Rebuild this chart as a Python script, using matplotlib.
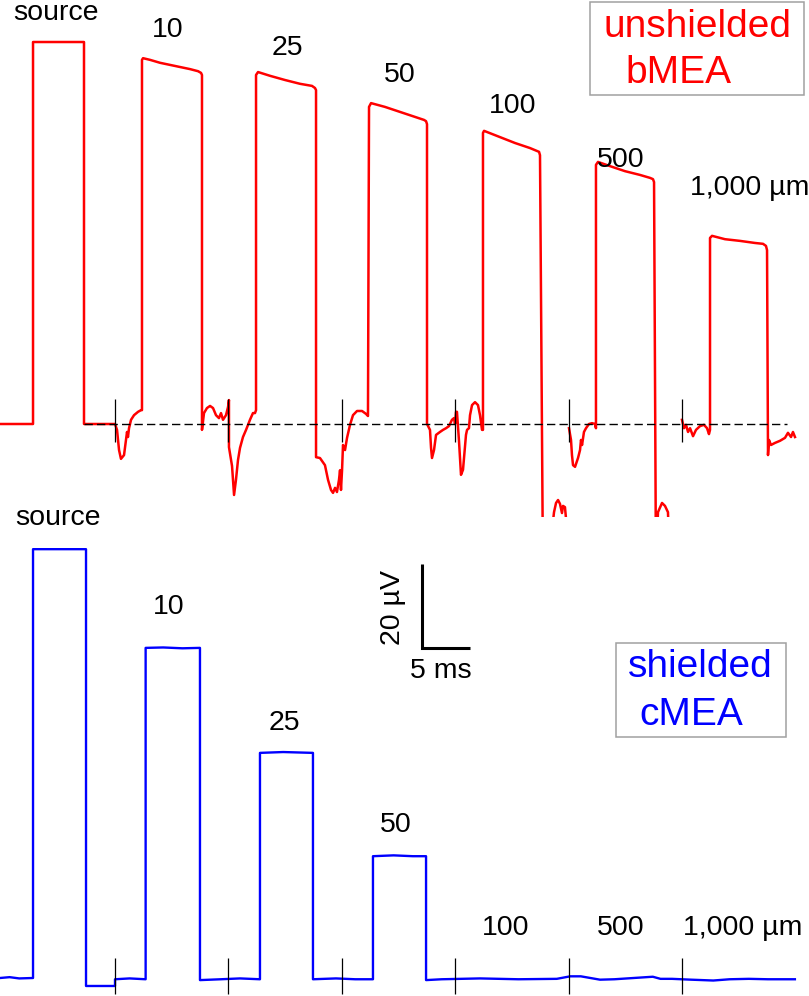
import numpy as np
import matplotlib
matplotlib.use('Agg')
import matplotlib.pyplot as plt
from matplotlib.patches import Rectangle

plt.rcParams['font.family'] = ['Liberation Sans', 'DejaVu Sans']

nan = np.nan

# stimulus onsets (ms) - black tick marks in both panels
tick_times = [11.98, 23.75, 35.63, 47.40, 59.27, 71.04]

# unshielded bMEA recording (ms, uV), segments split by distance
red_t = [0, 3.44, 3.44, 8.75, 8.75, 11.98,
         # 10 um
         12.19, 12.40, 12.60, 12.92, 13.13, 13.23, 13.33, 13.44, 13.65, 13.96, 14.38, 14.69, 14.79,
         14.79, 14.90, 15.63, 16.67, 17.71, 18.75, 19.79, 20.63, 20.94, 21.04,
         21.04, 21.25, 21.56, 21.88, 22.19, 22.50, 22.81, 23.02, 23.23, 23.54, 23.75, 23.85,
         # 25 um
         23.85, 24.17, 24.38, 24.58, 24.79, 25.00, 25.31, 25.63, 26.04, 26.35, 26.56, 26.67,
         26.67, 26.88, 28.13, 29.69, 31.25, 32.50, 32.81, 32.92,
         32.92, 33.33, 33.85, 34.17, 34.48, 34.69, 34.90, 35.10, 35.31, 35.42, 35.52, 35.63,
         # 50 um
         35.73, 35.94, 36.15, 36.46, 36.77, 37.19, 37.71, 38.13, 38.33,
         38.44, 38.65, 40.10, 41.67, 43.23, 44.17, 44.38, 44.48,
         44.48, 44.79, 44.90, 45.00, 45.21, 45.42, 45.83, 46.15, 46.46, 46.77, 47.08, 47.29, 47.40,
         # 100 um
         47.50, 47.60, 47.81, 48.02, 48.23, 48.54, 48.65, 48.85, 48.96, 49.17, 49.48, 49.79, 50.00, 50.21, 50.31,
         50.31, 50.42, 52.08, 53.65, 55.21, 55.94, 56.15, 56.25,
         56.56, 57.50, 57.71, 57.92, 58.13, 58.33, 58.54, 58.65, 58.85, 59.06, 59.17,
         nan,
         # 500 um
         59.27, 59.48, 59.58, 59.69, 59.90, 60.21, 60.42, 60.52, 60.63, 60.83, 61.04, 61.35, 61.67, 61.98, 62.08,
         62.08, 62.29, 63.54, 65.10, 66.67, 67.71, 68.02, 68.13,
         68.33, 68.54, 68.96, 69.27, 69.58, 69.79,
         nan,
         # 1000 um
         71.04, 71.25, 71.46, 71.67, 71.88, 72.19, 72.50, 72.92, 73.33, 73.65, 73.85, 73.96,
         73.96, 74.17, 75.52, 77.08, 78.65, 79.48, 79.79, 79.90,
         80.00, 80.10, 80.31, 80.73, 81.25, 81.77, 82.08, 82.40, 82.60, 82.81]

red_v = [0, 0, 90.95, 90.95, 0, 0,
         -1.4, -6.2, -8.3, -7.4, -3.8, -1.9, -3.1, -1.0, 1.0, 2.1, 2.9, 3.3, 3.3,
         86.7, 87.1, 86.7, 86.0, 85.5, 85.0, 84.5, 84.0, 83.6, 83.1,
         -1.4, 2.6, 3.8, 4.3, 3.8, 2.1, 1.4, 2.6, 1.0, 2.1, 4.0, 5.7,
         -5.5, -10.0, -16.9, -13.3, -8.6, -5.7, -3.1, -1.4, 1.0, 2.6, 2.6, 3.3,
         83.1, 83.8, 82.9, 81.9, 81.0, 80.5, 80.0, 79.5,
         -7.9, -8.1, -9.8, -13.3, -15.7, -16.4, -15.2, -16.2, -13.3, -11.0, -15.7, -11.0,
         -5.0, -6.2, -3.3, -0.2, 2.1, 3.1, 3.1, 2.4, 1.9,
         75.5, 76.4, 75.5, 74.3, 73.1, 72.4, 72.1, 71.4,
         0, -1.4, -5.7, -8.1, -6.2, -2.6, -1.9, -1.4, -1.0, -0.5, 1.0, 1.4, 0,
         2.9, 2.9, -4.0, -12.1, -10.9, -2.6, -1.4, -1.0, 2.1, 4.5, 5.2, 4.5, 2.1, -1.4, -1.4,
         69.3, 69.8, 68.3, 66.9, 65.7, 65.0, 64.8, 64.0,
         -35, -25.2, -21.0, -18.8, -18.1, -19.0, -21.2, -19.5, -19.8, -25.0, -35,
         nan,
         -1.0, -3.8, -7.4, -9.8, -10.2, -8.1, -6.2, -3.8, -5.0, -1.9, -1.0, 0, 0.2, 0, -1.0,
         61.7, 62.4, 61.4, 60.2, 59.3, 58.6, 58.3, 57.6,
         -35, -21.0, -18.8, -19.5, -21.0, -35,
         nan,
         1.0, -1.0, -0.2, -1.9, -1.0, -2.9, -1.4, -0.5, -0.2, -1.0, -2.4, -1.4,
         44.3, 44.8, 44.0, 43.6, 43.1, 42.9, 42.4, 41.4,
         -7.4, -3.8, -5.0, -4.5, -4.0, -3.3, -2.1, -3.1, -1.9, -3.1]

# shielded cMEA recording (ms, uV)
blue_t = [0, 1.0, 2.0, 3.44, 3.44, 5.5, 7.0, 8.96, 8.96, 11.98,
          11.98, 13.5, 15.17, 15.17, 17.0, 19.0, 20.83,
          20.83, 23.0, 25.0, 27.08, 27.08, 29.5, 32.6,
          32.6, 35.0, 37.0, 38.85, 38.85, 41.0, 43.0, 44.38,
          44.38, 46.0, 50.0, 54.0, 58.0, 59.4, 60.5, 62.5, 64.0, 66.0, 68.0, 68.8, 70.0,
          72.0, 74.3, 76.0, 78.0, 80.0, 82.8]
blue_v = [0, 0.2, -0.1, 0, 102.1, 102.1, 102.1, 102.1, -1.9, -1.9,
          -0.3, -0.1, -0.3, 78.6, 78.7, 78.5, 78.6,
          -0.5, -0.3, -0.1, -0.3, 53.6, 53.8, 53.6,
          -0.3, -0.1, -0.3, -0.3, 29.0, 29.2, 29.0, 29.0,
          -0.5, -0.3, -0.1, -0.3, -0.2, 0.4, 0.4, -0.4, -0.3, 0.0, 0.3, -0.2, -0.2,
          -0.4, -0.6, -0.3, -0.2, -0.3, -0.3]

dist_labels = ['source', '10', '25', '50', '100', '500', '1,000 \u00b5m']

W, H = 809, 996
px_ms = 9.6   # pixels per ms
px_uv = 4.2   # pixels per uV

fig = plt.figure(figsize=(W / 100, H / 100), dpi=100)
top = fig.add_axes([0, 1 - 517 / H, 1, 517 / H])
bot = fig.add_axes([0, 0, 1, 1 - 517 / H])
top.set_xlim(0, W / px_ms)
top.set_ylim(-(517 - 424) / px_uv, 424 / px_uv)
bot.set_xlim(0, W / px_ms)
bot.set_ylim(-(996 - 978) / px_uv, (978 - 517) / px_uv)
for ax in (top, bot):
    ax.axis('off')

top.plot(red_t, red_v, color='#ff0000', lw=1.8, solid_joinstyle='round')
top.plot([8.75, 82.0], [0, 0], color='black', lw=1.0, ls=(0, (6, 3)), zorder=3)
top.vlines(tick_times, -4.3, 6.0, color='black', lw=0.9, zorder=4)

bot.plot(blue_t, blue_v, color='#0000ff', lw=1.7)
bot.vlines(tick_times, -3.8, 4.8, color='black', lw=0.9, zorder=4)

# scale bar 20 uV / 5 ms
sx, sy = 43.96, 78.57
bot.plot([sx, sx, sx + 5], [sy + 20, sy, sy], color='black', lw=2.2,
         solid_capstyle='butt', solid_joinstyle='miter')


def label(x, y, s, **kw):
    fig.text(x / W, 1 - y / H, s, **kw)


fs = 20.5
top_pos = [(56, 20), (168, 37), (287, 55), (400, 82), (513, 113), (621, 167), (690, 195)]
bot_pos = [(58, 525), (169, 614), (284, 730), (396, 832), (506, 935), (621, 935), (683, 935)]
for i, s in enumerate(dist_labels):
    ha = 'left' if i == len(dist_labels) - 1 else 'center'
    label(top_pos[i][0], top_pos[i][1], s, fontsize=fs, ha=ha, va='baseline')
    label(bot_pos[i][0], bot_pos[i][1], s, fontsize=fs, ha=ha, va='baseline')

label(393, 607, '20 \u00b5V', fontsize=fs, rotation=90, ha='center', va='center')
label(441, 678, '5 ms', fontsize=fs, ha='center', va='baseline')

# legend boxes
fig.patches.append(Rectangle((590 / W, 1 - 95 / H), 214 / W, 93 / H, transform=fig.transFigure,
                             fill=False, edgecolor='#a0a0a0', lw=1.1))
label(603, 37, 'unshielded', fontsize=28, color='#ff0000', va='baseline')
label(625, 83, 'bMEA', fontsize=28, color='#ff0000', va='baseline')

fig.patches.append(Rectangle((616 / W, 1 - 737 / H), 170 / W, 94 / H, transform=fig.transFigure,
                             fill=False, edgecolor='#a0a0a0', lw=1.1))
label(628, 677, 'shielded', fontsize=28, color='#0000ff', va='baseline')
label(639, 725, 'cMEA', fontsize=28, color='#0000ff', va='baseline')

fig.savefig('out.png', dpi=100)
